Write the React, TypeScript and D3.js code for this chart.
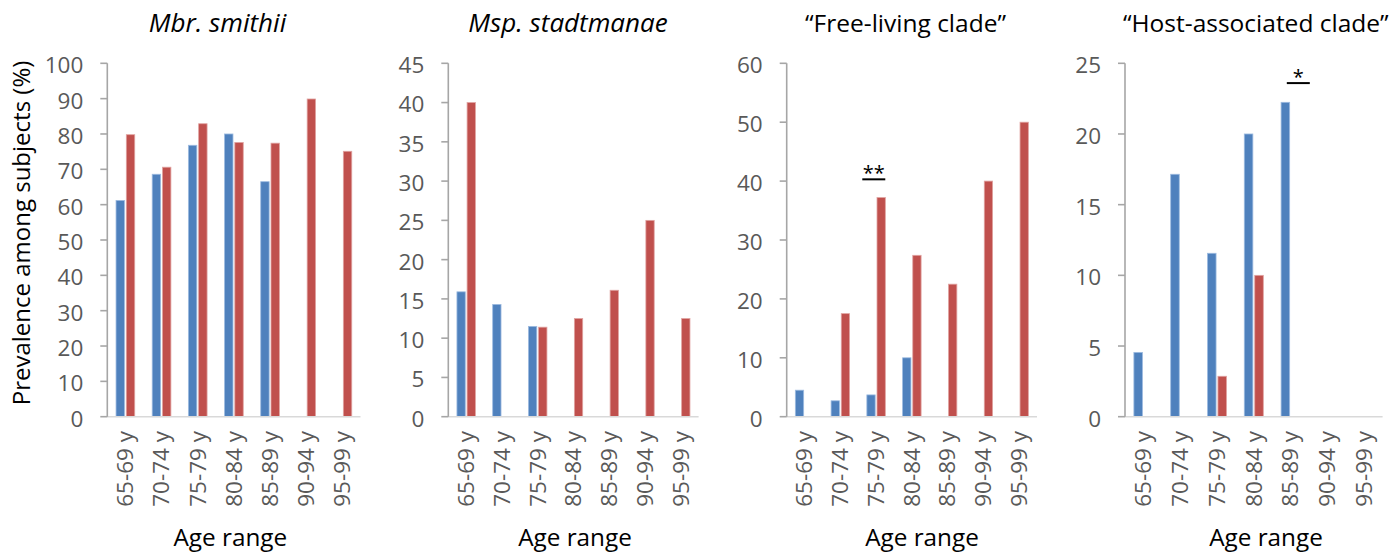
import React from "react";
import * as d3 from "d3";

// ---- Data ----
const ageRanges = ["65-69 y", "70-74 y", "75-79 y", "80-84 y", "85-89 y", "90-94 y", "95-99 y"];

const panelTitles = ["Mbr. smithii", "Msp. stadtmanae", "\u201CFree-living clade\u201D", "\u201CHost-associated clade\u201D"];
const titleItalic = [true, true, false, false];

const smithiiBlue = [61.2, 68.6, 76.8, 80.0, 66.5, 0, 0];
const smithiiRed = [79.8, 70.6, 82.9, 77.6, 77.4, 89.9, 75.1];

const stadtmanaeBlue = [15.9, 14.3, 11.5, 0, 0, 0, 0];
const stadtmanaeRed = [40.0, 0, 11.4, 12.5, 16.1, 25.0, 12.5];

const freeLivingBlue = [4.5, 2.7, 3.7, 10.0, 0, 0, 0];
const freeLivingRed = [0, 17.5, 37.2, 27.4, 22.5, 40.0, 50.0];

const hostAssocBlue = [4.55, 17.15, 11.56, 20.0, 22.24, 0, 0];
const hostAssocRed = [0, 0, 2.86, 10.0, 0, 0, 0];

const yMaxes = [100, 45, 60, 25];
const yTickSteps = [10, 5, 10, 5];

// significance marks: panel index, category, text, level (data units)
const sigPanels = [2, 3];
const sigCategories = ["75-79 y", "85-89 y"];
const sigTexts = ["**", "*"];
const sigLevels = [40.3, 23.6];

const yAxisTitle = "Prevalence among subjects (%)";
const xAxisTitle = "Age range";

// ---- Layout ----
const W = 1399;
const H = 554;
const plotTop = 63.3;
const plotBottom = 416.7;
const axisLeft = [107.3, 448.3, 786.7, 1125];
const axisRight = [360.5, 698.6, 1037, 1382.6];
const titleCx = [217.5, 568, 905.5, 1255.8];
const xTitleCx = [230.3, 575, 922, 1266];
const sigLineOffsets = [[-13.8, 9.2], [-3.8, 19.2]];

const BLUE = "#4F81BD";
const RED = "#C0504D";
const FONT = "'Open Sans', 'Noto Sans', sans-serif";
const TICK_FS = 22.5;

const seriesBlue = [smithiiBlue, stadtmanaeBlue, freeLivingBlue, hostAssocBlue];
const seriesRed = [smithiiRed, stadtmanaeRed, freeLivingRed, hostAssocRed];

function Panel({ i }: { i: number }) {
  const x = d3
    .scaleBand<string>()
    .domain(ageRanges)
    .range([axisLeft[i], axisRight[i]])
    .paddingInner(0.483)
    .paddingOuter(0.2415);
  const xs = d3
    .scaleBand<string>()
    .domain(["blue", "red"])
    .range([0, x.bandwidth()])
    .paddingInner(0.18);
  const y = d3.scaleLinear().domain([0, yMaxes[i]]).range([plotBottom, plotTop]);
  const ticks = d3.range(0, yMaxes[i] + yTickSteps[i] / 2, yTickSteps[i]);
  const blue = seriesBlue[i];
  const red = seriesRed[i];
  const center = (c: string) => (x(c) as number) + x.bandwidth() / 2;

  return (
    <g>
      {/* title */}
      <text
        x={titleCx[i]}
        y={31.5}
        textAnchor="middle"
        fontFamily={FONT}
        fontSize={titleItalic[i] ? 26 : 24.5}
        fontStyle={titleItalic[i] ? "italic" : "normal"}
        fill="#000"
      >
        {panelTitles[i]}
      </text>

      {/* bars */}
      {ageRanges.map((c, k) => (
        <g key={c}>
          {blue[k] > 0 && (
            <rect
              x={(x(c) as number) + (xs("blue") as number)}
              y={y(blue[k])}
              width={xs.bandwidth()}
              height={plotBottom - y(blue[k])}
              fill={BLUE}
              stroke="#9dbbe0"
              strokeWidth={0.8}
            />
          )}
          {red[k] > 0 && (
            <rect
              x={(x(c) as number) + (xs("red") as number)}
              y={y(red[k])}
              width={xs.bandwidth()}
              height={plotBottom - y(red[k])}
              fill={RED}
              stroke="#e0a3a1"
              strokeWidth={0.8}
            />
          )}
        </g>
      ))}

      {/* x axis line */}
      <line
        x1={axisLeft[i]}
        x2={axisRight[i]}
        y1={plotBottom}
        y2={plotBottom}
        stroke="#D9D9D9"
        strokeWidth={1.6}
      />
      {/* y axis */}
      <line
        x1={axisLeft[i]}
        x2={axisLeft[i]}
        y1={plotTop}
        y2={plotBottom}
        stroke="#A6A6A6"
        strokeWidth={1.6}
      />
      {ticks.map((t) => (
        <g key={t}>
          <line
            x1={axisLeft[i] - 7}
            x2={axisLeft[i]}
            y1={y(t)}
            y2={y(t)}
            stroke="#A6A6A6"
            strokeWidth={1.6}
          />
          <text
            x={axisLeft[i] - 24}
            y={y(t) + 2}
            dy="0.35em"
            textAnchor="end"
            fontFamily={FONT}
            fontSize={TICK_FS}
            fill="#595959"
          >
            {t}
          </text>
        </g>
      ))}

      {/* x tick labels */}
      {ageRanges.map((c) => (
        <text
          key={c}
          transform={`translate(${center(c)},${431}) rotate(-90)`}
          textAnchor="end"
          dy="0.35em"
          fontFamily={FONT}
          fontSize={TICK_FS}
          fill="#595959"
        >
          {c}
        </text>
      ))}

      {/* x axis title */}
      <text
        x={xTitleCx[i]}
        y={546}
        textAnchor="middle"
        fontFamily={FONT}
        fontSize={24.3}
        fill="#000"
      >
        {xAxisTitle}
      </text>

      {/* significance marks */}
      {sigPanels.map((p, s) =>
        p === i ? (
          <g key={s}>
            <line
              x1={center(sigCategories[s]) + sigLineOffsets[s][0]}
              x2={center(sigCategories[s]) + sigLineOffsets[s][1]}
              y1={y(sigLevels[s])}
              y2={y(sigLevels[s])}
              stroke="#000"
              strokeWidth={2}
            />
            <text
              x={center(sigCategories[s]) + (sigLineOffsets[s][0] + sigLineOffsets[s][1]) / 2}
              y={y(sigLevels[s]) + 1}
              textAnchor="middle"
              fontFamily={FONT}
              fontSize={20}
              fill="#000"
            >
              {sigTexts[s]}
            </text>
          </g>
        ) : null
      )}
    </g>
  );
}

export default function App() {
  return (
    <svg
      width={W}
      height={H}
      viewBox={`0 0 ${W} ${H}`}
      style={{ position: "absolute", left: 0, top: 0, background: "#fff" }}
    >
      <rect x={0} y={0} width={W} height={H} fill="#fff" />
      <text
        transform={`translate(30,233) rotate(-90)`}
        textAnchor="middle"
        fontFamily={FONT}
        fontSize={24}
        fill="#000"
      >
        {yAxisTitle}
      </text>
      {[0, 1, 2, 3].map((i) => (
        <Panel key={i} i={i} />
      ))}
    </svg>
  );
}
